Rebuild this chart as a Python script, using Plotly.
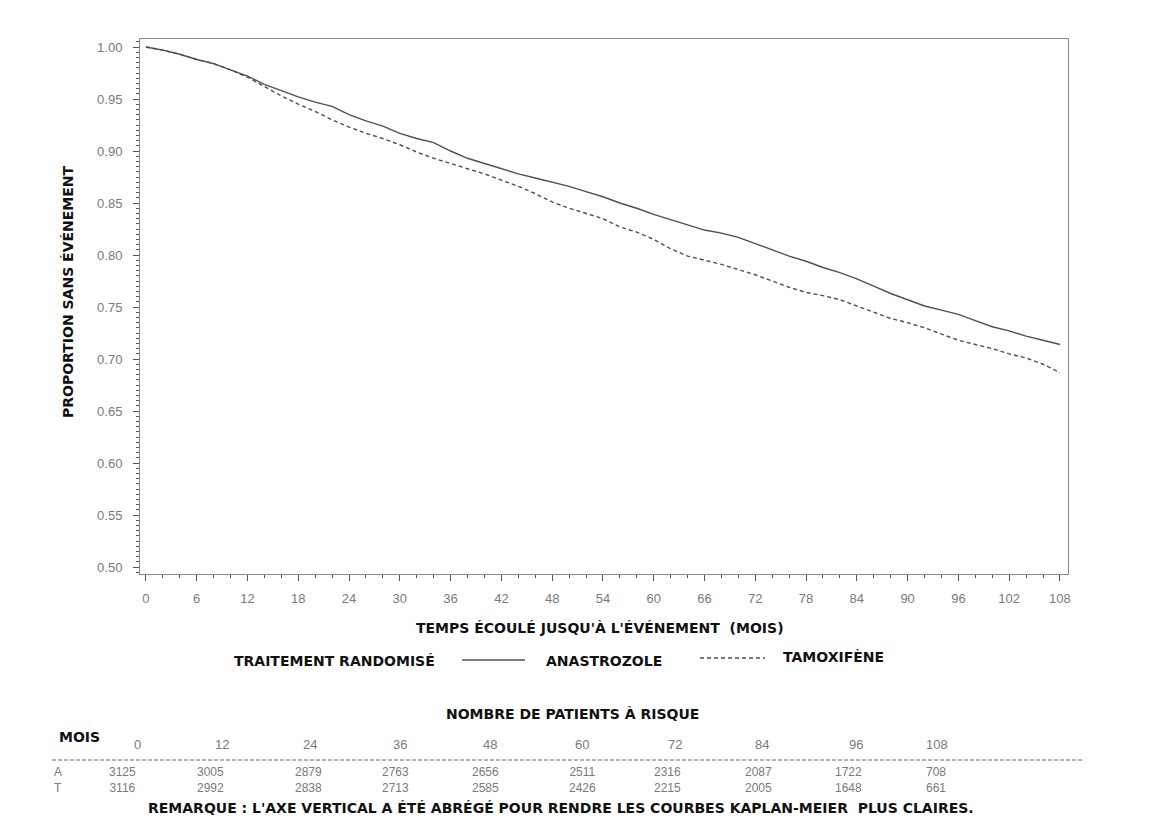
import plotly.graph_objects as go

# ---------------- data ----------------
months = [0, 2, 4, 6, 8, 10, 12, 14, 16, 18, 20, 22, 24, 26, 28, 30, 32, 34, 36, 38,
          40, 42, 44, 46, 48, 50, 52, 54, 56, 58, 60, 62, 64, 66, 68, 70, 72, 74, 76,
          78, 80, 82, 84, 86, 88, 90, 92, 94, 96, 98, 100, 102, 104, 106, 108]

anastrozole = [1.000, 0.997, 0.993, 0.988, 0.984, 0.978, 0.972, 0.964, 0.958, 0.952,
               0.947, 0.943, 0.935, 0.929, 0.924, 0.917, 0.912, 0.908, 0.900, 0.893,
               0.888, 0.883, 0.878, 0.874, 0.870, 0.866, 0.861, 0.856, 0.850, 0.845,
               0.839, 0.834, 0.829, 0.824, 0.821, 0.817, 0.811, 0.805, 0.799, 0.794,
               0.788, 0.783, 0.777, 0.770, 0.763, 0.757, 0.751, 0.747, 0.743, 0.737,
               0.731, 0.727, 0.722, 0.718, 0.714]

tamoxifene = [1.000, 0.997, 0.993, 0.988, 0.984, 0.978, 0.971, 0.962, 0.953, 0.945,
              0.938, 0.930, 0.923, 0.917, 0.912, 0.906, 0.899, 0.893, 0.888, 0.883,
              0.878, 0.872, 0.866, 0.859, 0.851, 0.845, 0.840, 0.835, 0.827, 0.822,
              0.815, 0.806, 0.799, 0.795, 0.791, 0.786, 0.781, 0.775, 0.769, 0.764,
              0.761, 0.757, 0.751, 0.745, 0.739, 0.735, 0.730, 0.724, 0.718, 0.714,
              0.710, 0.705, 0.701, 0.695, 0.687]

risk_months = ["0", "12", "24", "36", "48", "60", "72", "84", "96", "108"]
risk_A = ["3125", "3005", "2879", "2763", "2656", "2511", "2316", "2087", "1722", "708"]
risk_T = ["3116", "2992", "2838", "2713", "2585", "2426", "2215", "2005", "1648", "661"]

x_ticks = list(range(0, 109, 6))
y_ticks = [0.50, 0.55, 0.60, 0.65, 0.70, 0.75, 0.80, 0.85, 0.90, 0.95, 1.00]

# ---------------- layout geometry (pixels) ----------------
W, H = 1173, 837
L, R, T, B = 140, 1068, 39, 574          # plot area edges in pixels
head_x = [137, 222, 310, 400, 490, 582, 675, 762, 856, 937]
val_x = [122, 210, 308, 395, 485, 582, 667, 758, 848, 936]


def px(x):
    return (x - L) / (R - L)


def py(y):
    return (B - y) / (B - T)


FONT = "Liberation Sans, Arial, sans-serif"
BFONT = "DejaVu Sans, Liberation Sans, sans-serif"
BOLD = dict(family=BFONT, size=14, color="#111111", weight="bold")
TICK = dict(family=FONT, size=13, color="#7a7a7a")
TAB = dict(family=FONT, size=12, color="#7a7a7a")
LINE_COL = "#505050"

fig = go.Figure()
fig.add_trace(go.Scatter(x=months, y=anastrozole, mode="lines", name="ANASTROZOLE",
                         line=dict(color=LINE_COL, width=1.4), showlegend=False))
fig.add_trace(go.Scatter(x=months, y=tamoxifene, mode="lines", name="TAMOXIFÈNE",
                         line=dict(color=LINE_COL, width=1.4, dash="4px,3px"),
                         showlegend=False))

ann = []
# axis titles
ann.append(dict(text="PROPORTION SANS ÉVÉNEMENT", x=px(68), y=py(292), textangle=-90,
                font=BOLD))
ann.append(dict(text="TEMPS ÉCOULÉ JUSQU'À L'ÉVÉNEMENT  (MOIS)", x=px(600), y=py(628),
                font=BOLD))
# legend row
ann.append(dict(text="TRAITEMENT RANDOMISÉ", x=px(233), y=py(661), xanchor="left",
                font=BOLD))
ann.append(dict(text="ANASTROZOLE", x=px(545), y=py(661), xanchor="left", font=BOLD))
ann.append(dict(text="TAMOXIFÈNE", x=px(782), y=py(657), xanchor="left", font=BOLD))
# risk table
ann.append(dict(text="NOMBRE DE PATIENTS À RISQUE", x=px(572), y=py(714), font=BOLD))
ann.append(dict(text="MOIS", x=px(58), y=py(737), xanchor="left", font=BOLD))
for xh, lab in zip(head_x, risk_months):
    ann.append(dict(text=lab, x=px(xh), y=py(744), font=TICK))
ann.append(dict(text="A<br>T", x=px(53), y=py(780), xanchor="left", align="left",
                font=TAB))
for xv, a, t in zip(val_x, risk_A, risk_T):
    ann.append(dict(text=a + "<br>" + t, x=px(xv), y=py(780), font=TAB))
ann.append(dict(text="REMARQUE : L'AXE VERTICAL A ÉTÉ ABRÉGÉ POUR RENDRE LES COURBES "
                     "KAPLAN-MEIER  PLUS CLAIRES.",
                x=px(561), y=py(808), font=dict(BOLD, size=14)))
for a in ann:
    a.update(xref="paper", yref="paper", showarrow=False, borderpad=0)
    a.setdefault("xanchor", "center")
    a.setdefault("yanchor", "middle")

shapes = [
    dict(type="line", xref="paper", yref="paper", x0=px(462), x1=px(525),
         y0=py(660), y1=py(660), line=dict(color=LINE_COL, width=1.4)),
    dict(type="line", xref="paper", yref="paper", x0=px(700), x1=px(765),
         y0=py(658), y1=py(658), line=dict(color=LINE_COL, width=1.4, dash="4px,3px")),
    dict(type="line", xref="paper", yref="paper", x0=px(52), x1=px(1083),
         y0=py(760), y1=py(760), line=dict(color="#666666", width=1, dash="4px,2px")),
]

fig.update_layout(
    width=W, height=H,
    margin=dict(l=L, r=W - R, t=T, b=H - B, autoexpand=False),
    paper_bgcolor="white", plot_bgcolor="white",
    annotations=ann, shapes=shapes, showlegend=False,
    xaxis=dict(range=[-0.7, 108.95], tickvals=x_ticks, ticks="outside", ticklen=6,
               tickcolor="#555555", tickwidth=1, showline=True, linecolor="#8a8a8a",
               linewidth=1, mirror=True, showgrid=False, zeroline=False,
               tickfont=TICK, ticklabelstandoff=6,
               minor=dict(dtick=2, ticks="outside", ticklen=3, tickcolor="#555555")),
    yaxis=dict(range=[0.4933, 1.0077], tickvals=y_ticks, tickformat=".2f",
               ticks="outside", ticklen=6, tickcolor="#555555", tickwidth=1,
               showline=True, linecolor="#8a8a8a", linewidth=1, mirror=True,
               showgrid=False, zeroline=False, tickfont=TICK, ticklabelstandoff=8,
               minor=dict(dtick=0.005, tick0=0.5, ticks="outside", ticklen=3,
                          tickcolor="#555555")),
)

fig.write_html("out.html")
